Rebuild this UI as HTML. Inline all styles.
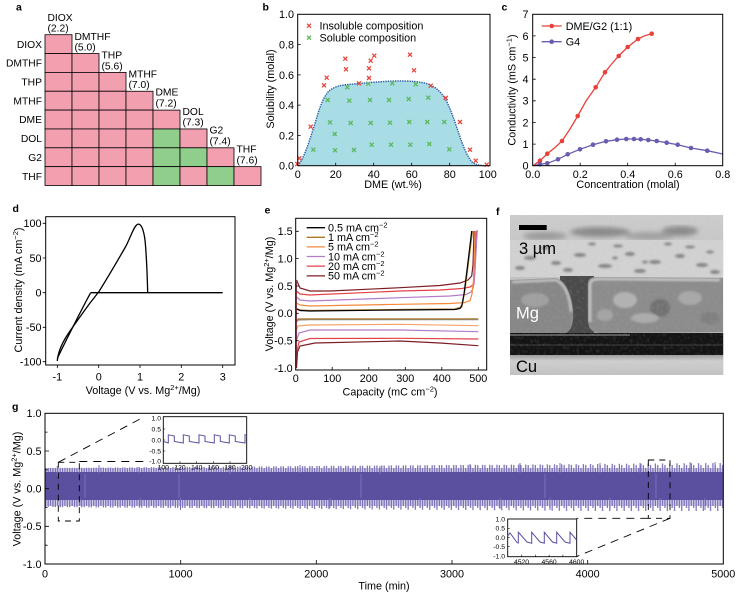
<!DOCTYPE html>
<html><head><meta charset="utf-8"><style>
html,body{margin:0;padding:0;background:#fff;}
svg{display:block;}
text{font-family:"Liberation Sans",Arial,sans-serif;fill:#000;}
</style></head><body>
<svg width="745" height="595" viewBox="0 0 745 595" xmlns="http://www.w3.org/2000/svg">
<defs>
<path id="xm" d="M-2,-2L2,2M-2,2L2,-2" stroke-width="1.3" fill="none"/>
<pattern id="combT" x="45" y="462" width="7.2" height="12" patternUnits="userSpaceOnUse">
<rect x="0" y="6" width="7.2" height="6" fill="#d9d5ee"/>
<rect x="0.2" y="3" width="1.1" height="9" fill="#6a5fae"/>
<rect x="2.6" y="6" width="1.1" height="6" fill="#6a5fae"/>
<rect x="5" y="1" width="1.1" height="11" fill="#6a5fae"/>
</pattern>
<pattern id="combB" x="45" y="500" width="7.2" height="13" patternUnits="userSpaceOnUse">
<rect x="0" y="0" width="7.2" height="6" fill="#d9d5ee"/>
<rect x="0.2" y="0" width="1.1" height="8" fill="#6a5fae"/>
<rect x="2.6" y="0" width="1.1" height="11" fill="#6a5fae"/>
<rect x="5" y="0" width="1.1" height="6" fill="#6a5fae"/>
</pattern>
<clipPath id="semclip"><rect x="510" y="215" width="213.3" height="160"/></clipPath>
<filter id="blur2"><feGaussianBlur stdDeviation="2.5"/></filter>
<filter id="blur1"><feGaussianBlur stdDeviation="1"/></filter>
<filter id="noise" x="0" y="0" width="100%" height="100%">
<feTurbulence type="fractalNoise" baseFrequency="0.3" numOctaves="2" seed="3"/>
<feColorMatrix type="matrix" values="0 0 0 0 0.5  0 0 0 0 0.5  0 0 0 0 0.5  0 0 0 1.2 -0.55"/>
</filter>
<linearGradient id="semtop" x1="0" y1="0" x2="0" y2="1">
<stop offset="0" stop-color="#cdcdcd"/><stop offset="1" stop-color="#b0b0b0"/>
</linearGradient>
<linearGradient id="cu" x1="0" y1="0" x2="0" y2="1">
<stop offset="0" stop-color="#9c9c9c"/><stop offset="0.3" stop-color="#cfcfcf"/><stop offset="1" stop-color="#c2c2c2"/>
</linearGradient>
</defs>

<!-- ================= Panel a ================= -->
<text x="16" y="10.5" font-size="10.5" font-weight="bold">a</text>
<g stroke="#000" stroke-width="0.8">
<rect x="45" y="34.7" width="27" height="18.85" fill="#f2a0b0"/>
<rect x="45" y="53.55" width="27" height="18.85" fill="#f2a0b0"/>
<rect x="72" y="53.55" width="27" height="18.85" fill="#f2a0b0"/>
<rect x="45" y="72.4" width="27" height="18.85" fill="#f2a0b0"/>
<rect x="72" y="72.4" width="27" height="18.85" fill="#f2a0b0"/>
<rect x="99" y="72.4" width="27" height="18.85" fill="#f2a0b0"/>
<rect x="45" y="91.25" width="27" height="18.85" fill="#f2a0b0"/>
<rect x="72" y="91.25" width="27" height="18.85" fill="#f2a0b0"/>
<rect x="99" y="91.25" width="27" height="18.85" fill="#f2a0b0"/>
<rect x="126" y="91.25" width="27" height="18.85" fill="#f2a0b0"/>
<rect x="45" y="110.1" width="27" height="18.85" fill="#f2a0b0"/>
<rect x="72" y="110.1" width="27" height="18.85" fill="#f2a0b0"/>
<rect x="99" y="110.1" width="27" height="18.85" fill="#f2a0b0"/>
<rect x="126" y="110.1" width="27" height="18.85" fill="#f2a0b0"/>
<rect x="153" y="110.1" width="27" height="18.85" fill="#f2a0b0"/>
<rect x="45" y="128.95" width="27" height="18.85" fill="#f2a0b0"/>
<rect x="72" y="128.95" width="27" height="18.85" fill="#f2a0b0"/>
<rect x="99" y="128.95" width="27" height="18.85" fill="#f2a0b0"/>
<rect x="126" y="128.95" width="27" height="18.85" fill="#f2a0b0"/>
<rect x="153" y="128.95" width="27" height="18.85" fill="#90ce8c"/>
<rect x="180" y="128.95" width="27" height="18.85" fill="#f2a0b0"/>
<rect x="45" y="147.8" width="27" height="18.85" fill="#f2a0b0"/>
<rect x="72" y="147.8" width="27" height="18.85" fill="#f2a0b0"/>
<rect x="99" y="147.8" width="27" height="18.85" fill="#f2a0b0"/>
<rect x="126" y="147.8" width="27" height="18.85" fill="#f2a0b0"/>
<rect x="153" y="147.8" width="27" height="18.85" fill="#90ce8c"/>
<rect x="180" y="147.8" width="27" height="18.85" fill="#90ce8c"/>
<rect x="207" y="147.8" width="27" height="18.85" fill="#f2a0b0"/>
<rect x="45" y="166.65" width="27" height="18.85" fill="#f2a0b0"/>
<rect x="72" y="166.65" width="27" height="18.85" fill="#f2a0b0"/>
<rect x="99" y="166.65" width="27" height="18.85" fill="#f2a0b0"/>
<rect x="126" y="166.65" width="27" height="18.85" fill="#f2a0b0"/>
<rect x="153" y="166.65" width="27" height="18.85" fill="#90ce8c"/>
<rect x="180" y="166.65" width="27" height="18.85" fill="#f2a0b0"/>
<rect x="207" y="166.65" width="27" height="18.85" fill="#90ce8c"/>
<rect x="234" y="166.65" width="27" height="18.85" fill="#f2a0b0"/>
</g>
<g font-size="10.3" text-anchor="end">
<text x="42" y="47.8">DIOX</text>
<text x="42" y="66.7">DMTHF</text>
<text x="42" y="85.5">THP</text>
<text x="42" y="104.4">MTHF</text>
<text x="42" y="123.2">DME</text>
<text x="42" y="142.1">DOL</text>
<text x="42" y="160.9">G2</text>
<text x="42" y="179.8">THF</text>
</g>
<g font-size="10.3">
<text x="47.5" y="20.8">DIOX</text><text x="47.5" y="31.6">(2.2)</text>
<text x="74.5" y="40">DMTHF</text><text x="74.5" y="50.5">(5.0)</text>
<text x="101.5" y="58.5">THP</text><text x="101.5" y="69.3">(5.6)</text>
<text x="128.5" y="77.7">MTHF</text><text x="128.5" y="88.2">(7.0)</text>
<text x="155.5" y="95.5">DME</text><text x="155.5" y="106.5">(7.2)</text>
<text x="182.5" y="114.8">DOL</text><text x="182.5" y="125.5">(7.3)</text>
<text x="209.5" y="133.5">G2</text><text x="209.5" y="144.4">(7.4)</text>
<text x="236.5" y="152.5">THF</text><text x="236.5" y="163.3">(7.6)</text>
</g>

<!-- ================= Panel b ================= -->
<text x="262.5" y="10.5" font-size="10.5" font-weight="bold">b</text>
<path d="M298,165.7 C300,163 302,160 304,155 C308,146 312,133 316,120 C320,106 324,96 329,91 C335,86 342,85 350,84.3 C365,83 380,81.5 395,81 C410,80.8 420,81.5 428,84 C436,87 441,92 446,100 C451,110 455,122 459,134 C463,146 467,156 472,162 C476,165 480,165.7 487,165.7 Z" fill="#a8dde5"/>
<path d="M298,165.7 C300,163 302,160 304,155 C308,146 312,133 316,120 C320,106 324,96 329,91 C335,86 342,85 350,84.3 C365,83 380,81.5 395,81 C410,80.8 420,81.5 428,84 C436,87 441,92 446,100 C451,110 455,122 459,134 C463,146 467,156 472,162 C476,165 480,165.7 487,165.7" fill="none" stroke="#2b5aa6" stroke-width="1.4" stroke-dasharray="1.4,1"/>
<g stroke="#e8453c">
<use href="#xm" x="297.3" y="164"/><use href="#xm" x="299.3" y="158.3"/><use href="#xm" x="310.7" y="126.7"/><use href="#xm" x="324" y="85.3"/><use href="#xm" x="326.7" y="77.7"/><use href="#xm" x="345.3" y="58.7"/><use href="#xm" x="346" y="69.3"/><use href="#xm" x="359" y="83.3"/><use href="#xm" x="369" y="78"/><use href="#xm" x="369" y="68.3"/><use href="#xm" x="370.7" y="60.7"/><use href="#xm" x="374.3" y="55.7"/><use href="#xm" x="410" y="54.7"/><use href="#xm" x="414" y="70.3"/><use href="#xm" x="430.7" y="85.7"/><use href="#xm" x="445.7" y="98"/><use href="#xm" x="460" y="122"/><use href="#xm" x="470" y="149.7"/><use href="#xm" x="475.7" y="160.7"/><use href="#xm" x="486.7" y="164.7"/>
<use href="#xm" x="309" y="25.7"/>
</g>
<g stroke="#5cb85c">
<use href="#xm" x="313.3" y="149.7"/><use href="#xm" x="327.7" y="100"/><use href="#xm" x="330" y="122.3"/><use href="#xm" x="334.7" y="134"/><use href="#xm" x="335" y="150.3"/><use href="#xm" x="347.3" y="87.3"/><use href="#xm" x="349.3" y="100.7"/><use href="#xm" x="350.7" y="123"/><use href="#xm" x="354" y="150"/><use href="#xm" x="368.3" y="83.7"/><use href="#xm" x="370" y="100"/><use href="#xm" x="370.7" y="123"/><use href="#xm" x="371.7" y="144.7"/><use href="#xm" x="389" y="100"/><use href="#xm" x="390" y="122.7"/><use href="#xm" x="391" y="144.7"/><use href="#xm" x="392.3" y="83.3"/><use href="#xm" x="408.7" y="99"/><use href="#xm" x="409.3" y="122"/><use href="#xm" x="410.3" y="144.7"/><use href="#xm" x="415.7" y="84.3"/><use href="#xm" x="428.3" y="97.7"/><use href="#xm" x="427.3" y="122"/><use href="#xm" x="429.3" y="144"/><use href="#xm" x="444.3" y="122"/><use href="#xm" x="449.3" y="149.3"/>
<use href="#xm" x="309" y="37.7"/>
</g>
<rect x="297.7" y="14.3" width="192.3" height="151.4" fill="none" stroke="#000" stroke-width="1"/>
<g stroke="#000" stroke-width="0.8">
<path d="M297.7,44.6h3M297.7,74.9h3M297.7,105.1h3M297.7,135.4h3M335.7,165.7v-3M373.7,165.7v-3M411.7,165.7v-3M449.7,165.7v-3"/>
</g>
<g font-size="10.8">
<text x="319.5" y="29.5">Insoluble composition</text>
<text x="319.5" y="41.5">Soluble composition</text>
</g>
<g font-size="10.8" text-anchor="end">
<text x="294" y="18.2">1.0</text><text x="294" y="48.5">0.8</text><text x="294" y="78.8">0.6</text><text x="294" y="109">0.4</text><text x="294" y="139.3">0.2</text><text x="294" y="169.6">0.0</text>
</g>
<g font-size="10.8" text-anchor="middle">
<text x="297.7" y="178">0</text><text x="335.7" y="178">20</text><text x="373.7" y="178">40</text><text x="411.7" y="178">60</text><text x="449.7" y="178">80</text><text x="487.7" y="178">100</text>
<text x="393" y="188">DME (wt.%)</text>
<text transform="translate(273.8,89) rotate(-90)">Solubility (molal)</text>
</g>

<!-- ================= Panel c ================= -->
<text x="501.5" y="10.5" font-size="10.5" font-weight="bold">c</text>
<polyline fill="none" stroke="#e8413a" stroke-width="1.3" points="533,165.7 540,160.7 547.3,153.7 555,147.5 562,141 570,129 577.7,116 586,101 595.7,87.3 605,72.3 612,63.5 618.7,56 627.7,47 638,39 645,35.6 651.7,33.7"/>
<polyline fill="none" stroke="#6b5bb0" stroke-width="1.3" points="533,165.7 540,164.3 547.3,163.3 558,159.3 567.7,154.3 580,149.3 593,144.7 606,141.3 617,139.7 626.3,139 634,139 640.7,139.3 648.3,140 656.7,141 666.7,142.7 677.7,144.7 691,148 707.3,150.7 722.7,154"/>
<g fill="#e8413a">
<circle cx="540" cy="160.7" r="2.3"/><circle cx="547.3" cy="153.7" r="2.3"/><circle cx="562" cy="141" r="2.3"/><circle cx="577.7" cy="116" r="2.3"/><circle cx="595.7" cy="87.3" r="2.3"/><circle cx="605" cy="72.3" r="2.3"/><circle cx="618.7" cy="56" r="2.3"/><circle cx="627.7" cy="47" r="2.3"/><circle cx="638" cy="39" r="2.3"/><circle cx="651.7" cy="33.7" r="2.3"/>
<circle cx="551.7" cy="26" r="2.3"/>
</g>
<g fill="#6b5bb0">
<circle cx="540" cy="164.3" r="2.3"/><circle cx="547.3" cy="163.3" r="2.3"/><circle cx="558" cy="159.3" r="2.3"/><circle cx="567.7" cy="154.3" r="2.3"/><circle cx="580" cy="149.3" r="2.3"/><circle cx="593" cy="144.7" r="2.3"/><circle cx="606" cy="141.3" r="2.3"/><circle cx="617" cy="139.7" r="2.3"/><circle cx="626.3" cy="139" r="2.3"/><circle cx="634" cy="139" r="2.3"/><circle cx="640.7" cy="139.3" r="2.3"/><circle cx="648.3" cy="140" r="2.3"/><circle cx="656.7" cy="141" r="2.3"/><circle cx="666.7" cy="142.7" r="2.3"/><circle cx="677.7" cy="144.7" r="2.3"/><circle cx="691" cy="148" r="2.3"/><circle cx="707.3" cy="150.7" r="2.3"/>
<circle cx="551.7" cy="41.7" r="2.3"/>
</g>
<line x1="541.7" y1="26" x2="561.7" y2="26" stroke="#e8413a" stroke-width="1.3"/>
<line x1="541.7" y1="41.7" x2="561.7" y2="41.7" stroke="#6b5bb0" stroke-width="1.3"/>
<rect x="532.7" y="14.3" width="190" height="151.4" fill="none" stroke="#000" stroke-width="1"/>
<g stroke="#000" stroke-width="0.8">
<path d="M532.7,35.9h3M532.7,57.5h3M532.7,79.2h3M532.7,100.8h3M532.7,122.4h3M532.7,144.1h3M580.2,165.7v-3M627.7,165.7v-3M675.2,165.7v-3"/>
</g>
<g font-size="10.8">
<text x="565.7" y="30">DME/G2 (1:1)</text>
<text x="565.7" y="45.7">G4</text>
</g>
<g font-size="10.8" text-anchor="end">
<text x="528.5" y="18.2">7</text><text x="528.5" y="39.8">6</text><text x="528.5" y="61.4">5</text><text x="528.5" y="83.1">4</text><text x="528.5" y="104.7">3</text><text x="528.5" y="126.3">2</text><text x="528.5" y="148">1</text><text x="528.5" y="169.6">0</text>
</g>
<g font-size="10.8" text-anchor="middle">
<text x="532.7" y="178">0.0</text><text x="580.2" y="178">0.2</text><text x="627.7" y="178">0.4</text><text x="675.2" y="178">0.6</text><text x="722.7" y="178">0.8</text>
<text x="628" y="188">Concentration (molal)</text>
<text transform="translate(515.5,90) rotate(-90)">Conductivity (mS cm<tspan font-size="7.5" dy="-4">−1</tspan><tspan dy="4">)</tspan></text>
</g>

<!-- ================= Panel d ================= -->
<text x="12.5" y="212" font-size="10.5" font-weight="bold">d</text>
<g fill="none" stroke="#000" stroke-width="1.3">
<path d="M222.7,292.7 L90.7,292.7"/>
<path d="M90.7,292.7 C86,301 66,340 57.3,358.5"/>
<path d="M57.3,361 C58,352 62,343 68,334 C74,325 82,314 90,303 C94,298 97,294 99,291.5 C108,277 118,260 126,246 C131,236 134,226 137.5,224.3 C141,223 143.5,229 145,240 C146.5,255 147.3,278 147.7,292.7"/>
</g>
<rect x="45.7" y="216.7" width="189.3" height="148.3" fill="none" stroke="#000" stroke-width="1"/>
<g stroke="#000" stroke-width="0.8">
<path d="M42.7,223.3h3M42.7,258h3M42.7,292.7h3M42.7,327.3h3M42.7,361.7h3M57.3,365v3M98.7,365v3M140,365v3M181.3,365v3M222.7,365v3"/>
</g>
<g font-size="10.8" text-anchor="end">
<text x="41.5" y="227.2">100</text><text x="41.5" y="261.9">50</text><text x="41.5" y="296.6">0</text><text x="41.5" y="331.2">-50</text><text x="41.5" y="365.6">-100</text>
</g>
<g font-size="10.8" text-anchor="middle">
<text x="57.3" y="380.5">-1</text><text x="98.7" y="380.5">0</text><text x="140" y="380.5">1</text><text x="181.3" y="380.5">2</text><text x="222.7" y="380.5">3</text>
<text x="143" y="394">Voltage (V vs. Mg<tspan font-size="7.5" dy="-4">2+</tspan><tspan dy="4">/Mg)</tspan></text>
<text transform="translate(22,290) rotate(-90)">Current density (mA cm<tspan font-size="7.5" dy="-4">−2</tspan><tspan dy="4">)</tspan></text>
</g>

<!-- ================= Panel e ================= -->
<text x="264.5" y="213.5" font-size="10.5" font-weight="bold">e</text>
<g fill="none" stroke-width="1.2">
<polyline stroke="#7d1d25" points="296.5,368 297.5,352 300,346 315,343 400,341 440,343 478.3,345.7"/>
<polyline stroke="#e34248" points="296.5,353 299,342 310,338.5 400,338.3 478.3,339"/>
<polyline stroke="#b57cc8" points="296.5,340 299,333 310,330 400,330 478.3,331.7"/>
<polyline stroke="#f7a46a" points="296.5,330 298,326 310,325 400,324.3 478.3,325.7"/>
<polyline stroke="#8a8a8a" points="296.5,322 298,320 310,319.6 478.3,319.6"/>
<polyline stroke="#b07828" points="296.5,321 298,319 310,318.8 478.3,318.8"/>
<polyline stroke="#7d1d25" points="296.5,280 300,288 310,291 330,291 400,287.7 440,285.5 460,283 468,280 471.7,276 473,265 474,231"/>
<polyline stroke="#e34248" points="296.5,291 300,294 310,295 400,291 440,290 462,288.5 470,287 474,284 475,270 476,231"/>
<polyline stroke="#b57cc8" points="296.5,297 300,300 310,301 400,297.7 450,296 466,294.5 471,292 473.3,288 475,270 477.3,230"/>
<polyline stroke="#f58a3c" points="296.5,303 300,305 310,306 400,304.3 450,303.5 465,302.5 470,300.5 472,294 473.5,280 475,231"/>
<polyline stroke="#b07828" points="296.5,308.5 300,310 310,310.5 400,309.5 455,309 460,307.5 462.5,304 465,290 472.5,231"/>
<polyline stroke="#000" points="296.5,309 300,310.5 310,311 400,310 455,309.5 460,308.5 461.7,306.5 464,294 468,262 471.7,231"/>
<line x1="296.5" y1="282" x2="296.5" y2="368" stroke="#7d1d25" stroke-width="0.8"/>
</g>
<rect x="295.7" y="218.3" width="191" height="151.7" fill="none" stroke="#000" stroke-width="1"/>
<g stroke="#000" stroke-width="0.8">
<path d="M295.7,231.3h3M295.7,258.6h3M295.7,286h3M295.7,313.3h3M295.7,340.7h3M332.2,370v-3M368.8,370v-3M405.3,370v-3M441.8,370v-3M478.3,370v-3"/>
</g>
<g stroke-width="1.3">
<line x1="306.7" y1="227.7" x2="325" y2="227.7" stroke="#000"/>
<line x1="306.7" y1="237.3" x2="325" y2="237.3" stroke="#b07828"/>
<line x1="306.7" y1="246.9" x2="325" y2="246.9" stroke="#f58a3c"/>
<line x1="306.7" y1="256.5" x2="325" y2="256.5" stroke="#b57cc8"/>
<line x1="306.7" y1="266.1" x2="325" y2="266.1" stroke="#e34248"/>
<line x1="306.7" y1="275.9" x2="325" y2="275.9" stroke="#7d1d25"/>
</g>
<g font-size="10.8">
<text x="328" y="231.5">0.5 mA cm<tspan font-size="7.5" dy="-4">−2</tspan></text>
<text x="328" y="241.1">1 mA cm<tspan font-size="7.5" dy="-4">−2</tspan></text>
<text x="328" y="250.7">5 mA cm<tspan font-size="7.5" dy="-4">−2</tspan></text>
<text x="328" y="260.3">10 mA cm<tspan font-size="7.5" dy="-4">−2</tspan></text>
<text x="328" y="269.9">20 mA cm<tspan font-size="7.5" dy="-4">−2</tspan></text>
<text x="328" y="279.7">50 mA cm<tspan font-size="7.5" dy="-4">−2</tspan></text>
</g>
<g font-size="10.8" text-anchor="end">
<text x="292.7" y="235.2">1.5</text><text x="292.7" y="262.5">1.0</text><text x="292.7" y="289.9">0.5</text><text x="292.7" y="317.2">0.0</text><text x="292.7" y="344.6">-0.5</text><text x="292.7" y="371.9">-1.0</text>
</g>
<g font-size="10.8" text-anchor="middle">
<text x="295.7" y="382">0</text><text x="332.2" y="382">100</text><text x="368.8" y="382">200</text><text x="405.3" y="382">300</text><text x="441.8" y="382">400</text><text x="478.3" y="382">500</text>
<text x="390" y="395.5">Capacity (mC cm<tspan font-size="7.5" dy="-4">−2</tspan><tspan dy="4">)</tspan></text>
<text transform="translate(273,294) rotate(-90)">Voltage (V vs. Mg<tspan font-size="7.5" dy="-4">2+</tspan><tspan dy="4">/Mg)</tspan></text>
</g>

<!-- ================= Panel f (SEM) ================= -->
<text x="496" y="215" font-size="10.5" font-weight="bold">f</text>
<g clip-path="url(#semclip)">
<rect x="510" y="215" width="213.3" height="160" fill="url(#semtop)"/>
<g filter="url(#blur2)" fill="#8a8a8a">
<ellipse cx="600" cy="232" rx="30" ry="5"/>
<ellipse cx="680" cy="231" rx="18" ry="5"/>
<ellipse cx="545" cy="236" rx="22" ry="4" fill="#9a9a9a"/>
<ellipse cx="650" cy="236" rx="25" ry="4" fill="#a0a0a0"/>
</g>
<rect x="510" y="240" width="213.3" height="37" fill="#d2d2d2"/>
<g filter="url(#blur1)" fill="#868686">
<ellipse cx="530" cy="258" rx="6" ry="2"/><ellipse cx="556" cy="263" rx="5" ry="2"/><ellipse cx="580" cy="255" rx="6" ry="2"/>
<ellipse cx="605" cy="266" rx="7" ry="2"/><ellipse cx="630" cy="254" rx="5" ry="2"/><ellipse cx="655" cy="262" rx="6" ry="2"/>
<ellipse cx="680" cy="256" rx="5" ry="2"/><ellipse cx="702" cy="265" rx="6" ry="2"/><ellipse cx="545" cy="248" rx="4" ry="1.5"/>
<ellipse cx="618" cy="246" rx="5" ry="1.5"/><ellipse cx="690" cy="247" rx="5" ry="1.5"/><ellipse cx="568" cy="270" rx="5" ry="2"/>
<ellipse cx="640" cy="271" rx="6" ry="2"/><ellipse cx="715" cy="272" rx="5" ry="2"/>
<ellipse cx="520" cy="268" rx="5" ry="2"/><ellipse cx="592" cy="244" rx="4" ry="1.5"/><ellipse cx="668" cy="244" rx="4" ry="1.5"/>
<ellipse cx="615" cy="258" rx="3" ry="1.5"/><ellipse cx="645" cy="262" rx="3" ry="1.5"/><ellipse cx="710" cy="252" rx="4" ry="1.5"/>
</g>
<rect x="560" y="276" width="34" height="58" fill="#4a4a4a"/>
<path d="M510,280 L556,278 C566,281 571,295 573,310 C574,322 572,330 566,333 L510,333 Z" fill="#878787"/>
<path d="M588,284 C588,278 592,277 598,277 L723,278 L723,332 L600,333 C592,333 588,328 588,320 Z" fill="#8c8c8c"/>
<g filter="url(#blur1)">
<path d="M512,282 L556,280 C565,284 570,296 571,312" fill="none" stroke="#cccccc" stroke-width="2.2"/>
<path d="M590,322 L590,284 C591,280 594,279 600,279 L720,280" fill="none" stroke="#d2d2d2" stroke-width="2.2"/>
<ellipse cx="625" cy="300" rx="12" ry="8" fill="#b2b2b2"/>
<ellipse cx="660" cy="308" rx="10" ry="9" fill="#727272"/>
<ellipse cx="690" cy="298" rx="12" ry="7" fill="#a8a8a8"/>
<ellipse cx="645" cy="318" rx="14" ry="5" fill="#acacac"/>
<ellipse cx="535" cy="300" rx="14" ry="7" fill="#a0a0a0"/>
<ellipse cx="710" cy="318" rx="10" ry="6" fill="#808080"/>
<ellipse cx="605" cy="315" rx="8" ry="6" fill="#a4a4a4"/>
</g>
<rect x="510" y="333" width="213.3" height="22" fill="#141414"/>
<rect x="510" y="334" width="120" height="2" fill="#5a5a5a"/>
<rect x="510" y="344" width="213.3" height="2" fill="#2a2a2a"/>
<rect x="510" y="355" width="213.3" height="20" fill="url(#cu)"/>
<rect x="510" y="215" width="213.3" height="160" filter="url(#noise)" opacity="0.3"/>
</g>
<rect x="519" y="225" width="27.7" height="5" fill="#000"/>
<text x="519" y="254" font-size="16.5">3 µm</text>
<text x="516" y="318.5" font-size="16.5" style="fill:#fff">Mg</text>
<text x="516" y="372" font-size="16.5">Cu</text>

<!-- ================= Panel g ================= -->
<text x="12" y="410" font-size="10.5" font-weight="bold">g</text>
<polygon points="45,468 723.3,463 723.3,473 45,473" fill="url(#combT)"/>
<polygon points="45,499 723.3,499 723.3,512 45,507" fill="url(#combB)"/>
<rect x="45" y="472" width="678.3" height="28" fill="#5b4f9f"/>
<g stroke="#7a70bb" stroke-width="1">
<path d="M57.3,466 v10M99,465 v8M139,467 v6M230,466 v8M300,465 v8M380,466 v8M470,464 v9M520,463 v10M560,463 v10M600,463 v10M640,463 v10M690,462 v10M715,462 v10"/>
<path d="M180.5,498 v12M330,498 v10M420,498 v10M500,498 v11M550,498 v12M610,498 v11M660,498 v11M705,498 v12M80,498 v8M140,498 v8M250,498 v8"/>
</g>
<g stroke="#8c83c6" stroke-width="0.8" opacity="0.8">
<path d="M85,474v24M179,474v24M361,474v24M545,474v24M656,474v24"/>
</g>
<rect x="45" y="413.3" width="678.3" height="150.7" fill="none" stroke="#000" stroke-width="1"/>
<g stroke="#000" stroke-width="0.8">
<path d="M45,451h4M45,488.7h4M45,526.3h4M45,432.1h2.5M45,469.8h2.5M45,507.5h2.5M45,545.2h2.5"/>
<path d="M180.7,564v-4M316.3,564v-4M452,564v-4M587.7,564v-4"/>
</g>
<g font-size="10.8" text-anchor="end">
<text x="41.5" y="417.2">1.0</text><text x="41.5" y="454.9">0.5</text><text x="41.5" y="492.6">0.0</text><text x="41.5" y="530.2">-0.5</text><text x="41.5" y="567.9">-1.0</text>
</g>
<g font-size="10.8" text-anchor="middle">
<text x="45" y="577.5">0</text><text x="180.7" y="577.5">1000</text><text x="316.3" y="577.5">2000</text><text x="452" y="577.5">3000</text><text x="587.7" y="577.5">4000</text><text x="723.3" y="577.5">5000</text>
<text x="384" y="589.5">Time (min)</text>
<text transform="translate(20.5,489) rotate(-90)">Voltage (V vs. Mg<tspan font-size="7.5" dy="-4">2+</tspan><tspan dy="4">/Mg)</tspan></text>
</g>
<g fill="none" stroke="#000" stroke-width="0.9">
<rect x="58.3" y="462.3" width="21" height="58.7" stroke-dasharray="6,5"/>
<line x1="58.3" y1="462.3" x2="143.3" y2="417.3" stroke-dasharray="8,6"/>
<line x1="79.3" y1="461.5" x2="143.3" y2="461.5" stroke-dasharray="8,6"/>
<rect x="648.3" y="460" width="21.7" height="58.3" stroke-dasharray="6,5"/>
<line x1="648.3" y1="518.3" x2="576.7" y2="518.3" stroke-dasharray="8,6"/>
<line x1="670" y1="518.3" x2="576.7" y2="556.5" stroke-dasharray="8,6"/>
</g>
<!-- inset 1 -->
<rect x="163.3" y="416.7" width="83.4" height="46.6" fill="#fff" stroke="#000" stroke-width="0.9"/>
<path d="M163.3,441.5 L168.3,443 L168.3,434.8 L174.3,436 L174.3,441.5 L183.3,443 L183.3,434.8 L189.3,436 L189.3,441.5 L199,443 L199,434.8 L205,436 L205,441.5 L214.3,443 L214.3,434.8 L220.3,436 L220.3,441.5 L229.3,443 L229.3,434.8 L235.3,436 L235.3,441.5 L245,443 L245,434.8 L246.7,435" fill="none" stroke="#5b4f9f" stroke-width="1"/>
<g stroke="#000" stroke-width="0.6">
<path d="M163.3,429h2M163.3,440h2M163.3,451h2M180,463.3v-2M196.7,463.3v-2M213.3,463.3v-2M230,463.3v-2"/>
</g>
<g font-size="6.8" text-anchor="end">
<text x="161" y="420.6">1.0</text><text x="161" y="431.4">0.5</text><text x="161" y="442.3">0.0</text><text x="161" y="453.3">-0.5</text><text x="161" y="463.5">-1.0</text>
</g>
<g font-size="6.8" text-anchor="middle">
<text x="163.3" y="469.5">100</text><text x="180" y="469.5">120</text><text x="196.7" y="469.5">140</text><text x="213.3" y="469.5">160</text><text x="230" y="469.5">180</text><text x="246.7" y="469.5">200</text>
</g>
<!-- inset 2 -->
<rect x="507.7" y="519" width="69" height="37.7" fill="#fff" stroke="#000" stroke-width="0.9"/>
<path d="M507.7,536 L510,533 L517,542.5 L518.3,543 L518.3,532.2 L527,542 L531.7,543.2 L531.7,532.2 L540,542 L544.3,543.2 L544.3,532.2 L552.5,542 L556.7,543.2 L556.7,532.2 L565,542 L570,543.2 L570,532.2 L576.7,540" fill="none" stroke="#5b4f9f" stroke-width="1"/>
<g stroke="#000" stroke-width="0.6">
<path d="M507.7,528.3h2M507.7,537.7h2M507.7,546.7h2M521.5,556.7v-2M535.3,556.7v-2M549.1,556.7v-2M562.9,556.7v-2"/>
</g>
<g font-size="6.8" text-anchor="end">
<text x="505" y="521.4">1.0</text><text x="505" y="530.7">0.5</text><text x="505" y="540.1">0.0</text><text x="505" y="549.1">-0.5</text><text x="505" y="558.4">-1.0</text>
</g>
<g font-size="6.8" text-anchor="middle">
<text x="521.5" y="564">4520</text><text x="549.1" y="564">4560</text><text x="576.7" y="564">4600</text>
</g>
</svg>
</body></html>
